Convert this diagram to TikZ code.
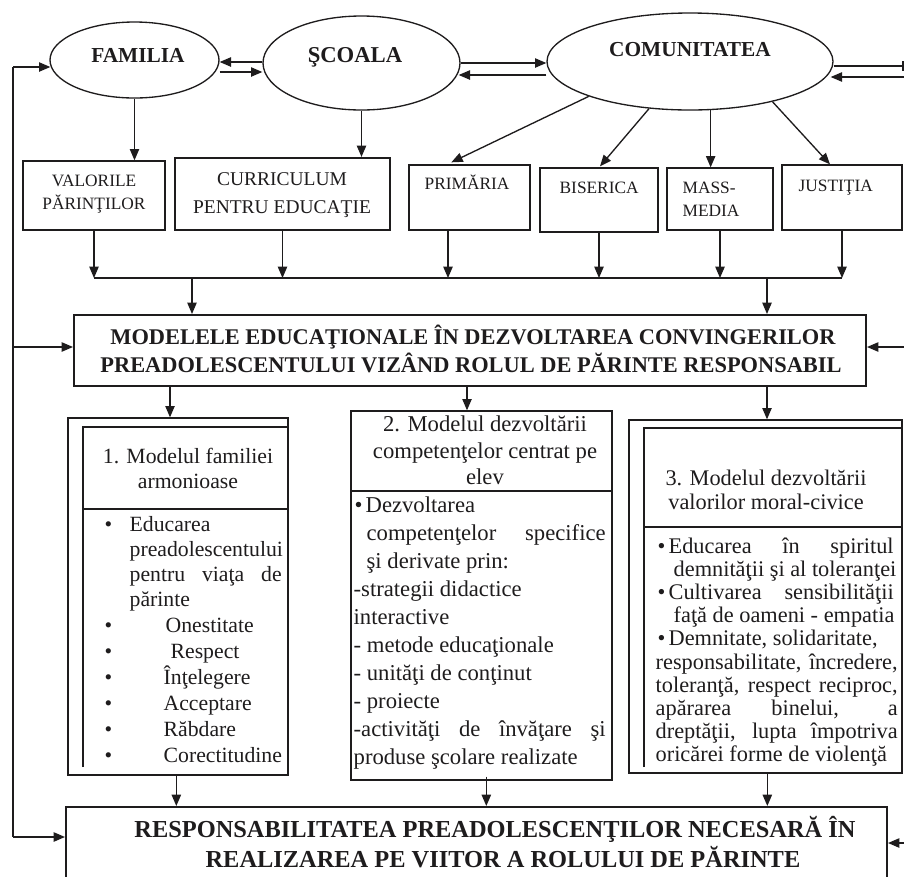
\documentclass[tikz,border=0pt]{standalone}
\usepackage{fontspec}
\setmainfont{Liberation Serif}
\usetikzlibrary{shapes.geometric,arrows.meta,calc,fit}
\definecolor{ink}{RGB}{30,28,29}
\newcommand\ovalfont{\bfseries\fontsize{16}{19}\selectfont}
\newcommand\rowfont{\fontsize{13}{16}\selectfont}
\newcommand\curfont{\fontsize{14.6}{17}\selectfont}
\newcommand\hdfont{\bfseries\fontsize{16.8}{20}\selectfont}
\newcommand\rsfont{\bfseries\fontsize{18.3}{22}\selectfont}
\newcommand\bodyA{\fontsize{16.3}{19}\selectfont}
\newcommand\bodyB{\fontsize{17}{20}\selectfont}
\newcommand\bodyC{\fontsize{16.75}{20}\selectfont}
\newcommand\bul[1]{\makebox[#1][l]{•}}
\begin{document}
\begin{tikzpicture}[x=0.75pt,y=-0.75pt,line width=1pt,color=ink,
  arr/.style={-{Triangle[length=8.5pt,width=7pt]}},
  oval/.style={ellipse,draw,inner sep=0pt},
  frame/.style={draw,inner sep=0pt},
  heavy/.style={draw,inner sep=0pt,line width=1.6pt},
  lbl/.style={inner sep=0pt,anchor=base},
  lbw/.style={inner sep=0pt,anchor=base west}]
\useasboundingbox (0,0) rectangle (904,876);

% --- the three partners ---
\node[oval, minimum width=126.75pt, minimum height=57pt] (fam) at (134.5,60) {};
\node[oval, minimum width=147.75pt, minimum height=70.5pt] (sco) at (361.5,63) {};
\node[oval, minimum width=214.5pt, minimum height=72.75pt] (com) at (690,61.5) {};
\node[lbl, font=\ovalfont] (famt) at (138,62) {FAMILIA};
\node[lbl, font=\bfseries\fontsize{17}{20}\selectfont] (scot) at (355,62) {ŞCOALA};
\node[lbl, font=\ovalfont] (comt) at (690,56) {COMUNITATEA};

\draw[arr] ($(sco.west)+(0,-1)$) -- ($(fam.east)+(0,2)$);
\draw[arr] ($(fam.east)+(0,12)$) -- ($(sco.west)+(0,9)$);
\draw[arr] (sco.east) -- ($(com.west)+(0,1.5)$);
\draw[arr] ($(com.west)+(0,13.5)$) -- ($(sco.east)+(-2,12)$);

% right-hand return line
\coordinate (rc1) at (903,66);
\coordinate (rc2) at (905,77);
\draw (com.east |- rc1) -- (rc1);
\draw ($(rc1)+(0,-5)$) -- ($(rc1)+(0,5)$);
\draw[arr] (rc2) -- ($(com.east)+(-3,15.5)$);

% --- second row of boxes ---
\node[frame, fit={(23,161) (165,230)}] (val) {};
\node[heavy, fit={(175,158) (390,230)}] (cur) {};
\node[frame, fit={(409,165) (530,230)}] (pri) {};
\node[frame, fit={(540,168) (658,232)}] (bis) {};
\node[frame, fit={(667,168) (773,230)}] (mm) {};
\node[frame, fit={(782,165) (902,230)}] (jus) {};

\node[lbl, font=\rowfont] (valt1) at (94,186) {VALORILE};
\node[lbl, font=\rowfont] (valt2) at (94,209) {PĂRINŢILOR};
\node[lbl, font=\curfont] (curt1) at (282,185) {CURRICULUM};
\node[lbl, font=\curfont] (curt2) at (282,213) {PENTRU EDUCAŢIE};
\node[lbw, font=\rowfont] (prit) at (424,189) {PRIMĂRIA};
\node[lbw, font=\rowfont] (bist) at (559,193) {BISERICA};
\node[lbw, font=\rowfont] (mmt1) at (682,193) {MASS-};
\node[lbw, font=\rowfont] (mmt2) at (682,216) {MEDIA};
\node[lbw, font=\rowfont] (just) at (798,191) {JUSTIŢIA};

\draw[arr] (fam.south) -- (fam.south |- val.north);
\draw[arr] (sco.south) -- (sco.south |- cur.north);
\draw[arr] (com.-161) -- ($(pri.north west)+(43,-2)$);
\draw[arr] (com.-131) -- ($(bis.north)+(1,-1)$);
\draw[arr] (com.-67) -- (com.-67 |- mm.north);
\draw[arr] (com.-26) -- ($(jus.north)+(-12,0)$);

% --- collecting bus ---
\coordinate (busl) at (94,278);
\coordinate (busr) at (842,278);
\coordinate (busa) at (192,278);
\coordinate (busb) at (767,278);
\draw (busl) -- (busr);
\draw[arr] (val.south) -- (val.south |- busl);
\draw[arr] (cur.south) -- (cur.south |- busl);
\draw[arr] ($(pri.south)+(-21.5,0)$) coordinate (pa) -- (pa |- busl);
\draw[arr] (bis.south) -- (bis.south |- busl);
\draw[arr] (mm.south) -- (mm.south |- busl);
\draw[arr] (jus.south) -- (jus.south |- busl);

% --- central box ---
\node[draw, line width=1.5pt, inner sep=0pt, fit={(74,315) (866,386)}] (mod) {};
\node[lbl, font=\hdfont] (modt1) at (473,344) {MODELELE EDUCAŢIONALE ÎN DEZVOLTAREA CONVINGERILOR};
\node[lbl, font=\hdfont] (modt2) at (471,372) {PREADOLESCENTULUI VIZÂND ROLUL DE PĂRINTE RESPONSABIL};
\draw[arr] (busa) -- (busa |- mod.north);
\draw[arr] (busb) -- (busb |- mod.north);

% --- model 1 ---
\node[frame, fit={(68,418) (288,775)}] (m1) {};
\draw (83,767) -- (83,427) -- (288,427);
\draw (83,509) -- (288,509);
\node[lbl, font=\bodyA] (m1h1) at (188,463) {1. Modelul familiei};
\node[lbl, font=\bodyA] (m1h2) at (188,488) {armonioase};
\node[lbw, font=\bodyA] (m1b1) at (104,531) {\bul{18.75pt}Educarea};
\node[lbw, font=\bodyA] (m1b2) at (129,556) {preadolescentului};
\node[lbw, font=\bodyA] (m1b3) at (129,581) {\makebox[114pt][s]{pentru viaţa de}};
\node[lbw, font=\bodyA] (m1b4) at (129,606) {părinte};
\node[lbw, font=\bodyA] (m1b5) at (104,632) {\bul{45.75pt}Onestitate};
\node[lbw, font=\bodyA] (m1b6) at (104,658) {\bul{49.5pt}Respect};
\node[lbw, font=\bodyA] (m1b7) at (104,684) {\bul{44.25pt}Înţelegere};
\node[lbw, font=\bodyA] (m1b8) at (104,710) {\bul{44.25pt}Acceptare};
\node[lbw, font=\bodyA] (m1b9) at (104,736) {\bul{44.25pt}Răbdare};
\node[lbw, font=\bodyA] (m1b10) at (104,762) {\bul{44.25pt}Corectitudine};

% --- model 2 ---
\node[frame, fit={(351,411) (612,780)}] (m2) {};
\draw (351,491) -- (612,491);
\node[lbl, font=\bodyB] (m2h1) at (485,431) {2. Modelul dezvoltării};
\node[lbl, font=\bodyB] (m2h2) at (485,458) {competenţelor centrat pe};
\node[lbl, font=\bodyB] (m2h3) at (485,484) {elev};
\node[lbw, font=\bodyB] (m2b1) at (354,512) {\bul{8.25pt}Dezvoltarea};
\node[lbw, font=\bodyB] (m2b2) at (366,540) {\makebox[179.25pt][s]{competenţelor specifice}};
\node[lbw, font=\bodyB] (m2b3) at (366,568) {şi derivate prin:};
\node[lbw, font=\bodyB] (m2b4) at (353,596) {-strategii didactice};
\node[lbw, font=\bodyB] (m2b5) at (353,624) {interactive};
\node[lbw, font=\bodyB] (m2b6) at (353,652) {- metode educaţionale};
\node[lbw, font=\bodyB] (m2b7) at (353,680) {- unităţi de conţinut};
\node[lbw, font=\bodyB] (m2b8) at (353,708) {- proiecte};
\node[lbw, font=\bodyB] (m2b9) at (353,736) {\makebox[189pt][s]{-activităţi de învăţare şi}};
\node[lbw, font=\bodyB] (m2b10) at (353,764) {produse şcolare realizate};

% --- model 3 ---
\node[frame, fit={(629,420) (902,773)}] (m3) {};
\draw (644,767) -- (644,428) -- (902,428);
\draw (644,527) -- (902,527);
\node[lbl, font=\bodyC] (m3h1) at (766,485) {3. Modelul dezvoltării};
\node[lbl, font=\bodyC] (m3h2) at (766,509) {valorilor moral-civice};
\node[lbw, font=\bodyC] (m3b1) at (657,553) {\bul{8.25pt}\makebox[168.75pt][s]{Educarea în spiritul}};
\node[lbw, font=\bodyC] (m3b2) at (673,576) {demnităţii şi al toleranţei};
\node[lbw, font=\bodyC] (m3b3) at (657,599) {\bul{8.25pt}\makebox[168.75pt][s]{Cultivarea sensibilităţii}};
\node[lbw, font=\bodyC] (m3b4) at (673,622) {faţă de oameni - empatia};
\node[lbw, font=\bodyC] (m3b5) at (657,645) {\bul{8.25pt}Demnitate, solidaritate,};
\node[lbw, font=\bodyC] (m3b6) at (655,669) {\makebox[181.5pt][s]{responsabilitate, încredere,}};
\node[lbw, font=\bodyC] (m3b7) at (655,692) {\makebox[181.5pt][s]{toleranţă, respect reciproc,}};
\node[lbw, font=\bodyC] (m3b8) at (655,715) {\makebox[181.5pt][s]{apărarea binelui, a}};
\node[lbw, font=\bodyC] (m3b9) at (655,738) {\makebox[181.5pt][s]{dreptăţii, lupta împotriva}};
\node[lbw, font=\bodyC] (m3b10) at (655,761) {oricărei forme de violenţă};

\draw[arr] ($(mod.south west)+(97,0)$) coordinate (ma) -- (ma |- m1.north);
\draw[arr] ($(mod.south west)+(394,0)$) coordinate (mb) -- (mb |- m2.north);
\draw[arr] ($(mod.south west)+(694,0)$) coordinate (mc) -- (mc |- m3.north);

% --- outcome box ---
\node[draw, line width=1.5pt, inner sep=0pt, fit={(66,807) (887,900)}] (res) {};
\node[lbl, font=\rsfont] (rest1) at (495,837) {RESPONSABILITATEA PREADOLESCENŢILOR NECESARĂ ÎN};
\node[lbl, font=\rsfont] (rest2) at (503,867) {REALIZAREA PE VIITOR A ROLULUI DE PĂRINTE};

\draw[arr] ($(m1.south west)+(109,0)$) coordinate (ra) -- (ra |- res.north);
\draw[arr] ($(m2.south west)+(136,-4)$) coordinate (rb) -- (rb |- res.north);
\draw[arr] ($(m3.south west)+(139,0)$) coordinate (rd) -- (rd |- res.north);

% --- left feedback line ---
\coordinate (lt) at (13,67);
\coordinate (lm) at (13,347);
\coordinate (lb) at (13,837);
\draw (lt) -- (lb);
\draw[arr] (lt) -- ($(fam.west)+(1,7)$);
\draw[arr] (lm) -- (mod.west |- lm);
\draw[arr] (lb) -- (res.west |- lb);

% --- right feedback arrows ---
\coordinate (rm) at (905,347);
\coordinate (rbb) at (905,843);
\draw[arr] (rm) -- (mod.east |- rm);
\draw[arr] (rbb) -- (res.east |- rbb);
\end{tikzpicture}
\end{document}
